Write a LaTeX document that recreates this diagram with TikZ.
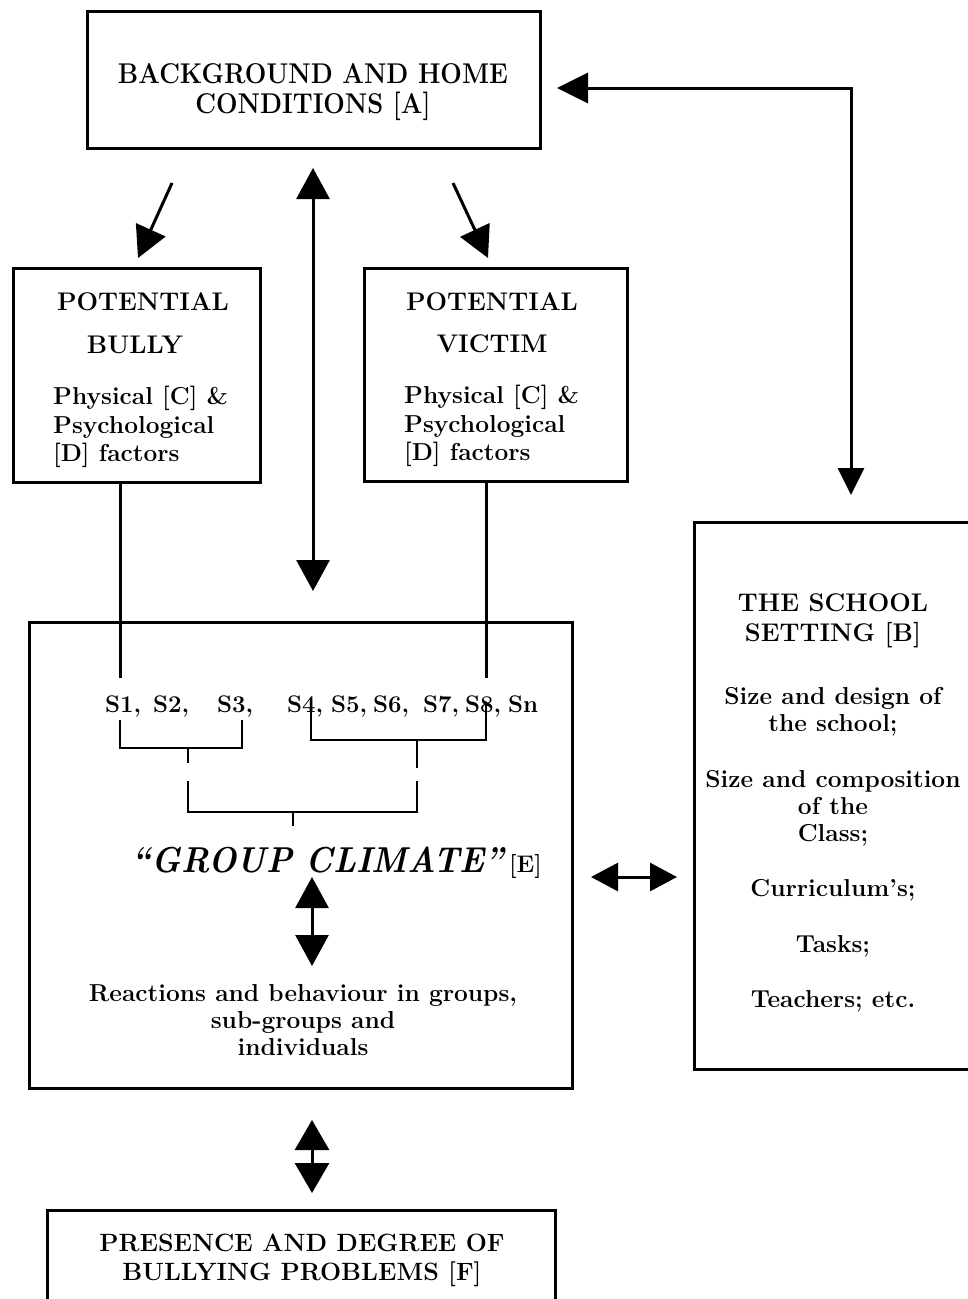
\documentclass[tikz,border=0pt]{standalone}
\usetikzlibrary{arrows.meta}
\begin{document}
\begin{tikzpicture}[x=1pt,y=-1pt,
  box/.style={draw, line width=3pt, rectangle, inner sep=0pt},
  conn/.style={line width=3pt},
  brk/.style={line width=2.8pt},
  lbl/.style={font=\fontsize{24.5}{28.5}\selectfont\bfseries, inner sep=0pt},
  hd/.style={font=\fontsize{25.5}{30}\selectfont\bfseries, inner sep=0pt},
  slbl/.style={font=\fontsize{24}{26}\selectfont\bfseries, inner sep=0pt, anchor=base west},
  bigtip/.style={-{Triangle[length=31pt,width=32pt]}},
  dbltip/.style={{Triangle[length=31pt,width=33pt]}-{Triangle[length=31pt,width=33pt]}},
  smalldbl/.style={{Triangle[length=27pt,width=28pt]}-{Triangle[length=27pt,width=28pt]}}
]
\useasboundingbox (0,0) rectangle (968,1299);
\clip (0,0) rectangle (968,1299);

% boxes
\node[box, minimum width=453pt, minimum height=137pt] (A) at (313.5,79.5) {};
\node[box, minimum width=247pt, minimum height=214pt] (bully) at (136.5,375) {};
\node[box, minimum width=263pt, minimum height=213pt] (victim) at (495.5,374.5) {};
\node[box, minimum width=543pt, minimum height=466pt] (E) at (300.5,855) {};
\node[box, minimum width=278pt, minimum height=547pt] (B) at (833,795.5) {};
\node[box, minimum width=508pt, minimum height=110pt] (F) at (301,1265) {};

% texts
\node[hd, align=center] (Atxt) at (313,92) {\scalebox{1}[1.12]{BACKGROUND AND HOME}\\\scalebox{1}[1.12]{CONDITIONS [A]}};

\node[hd] (bpot) at (143,302) {POTENTIAL};
\node[hd] (bbul) at (135,345) {BULLY};
\node[lbl, align=left, anchor=west] (bfac) at (53,427) {Physical [C] \&\\Psychological\\{[D]} factors};

\node[hd] (vpot) at (492,302) {POTENTIAL};
\node[hd] (vvic) at (492,344) {VICTIM};
\node[lbl, align=left, anchor=west] (vfac) at (404,426) {Physical [C] \&\\Psychological\\{[D]} factors};

\node[hd, align=center] (Btit) at (833,621) {THE SCHOOL\\SETTING [B]};
\node[lbl, align=center, font=\fontsize{24.5}{27}\selectfont\bfseries] (B1) at (833,712) {Size and design of\\the school;};
\node[lbl, align=center, font=\fontsize{24.5}{27}\selectfont\bfseries] (B2) at (833,808) {Size and composition\\of the\\Class;};
\node[lbl] (B3) at (833,890) {Curriculum’s;};
\node[lbl] (B4) at (833,946) {Tasks;};
\node[lbl] (B5) at (833,1001) {Teachers; etc.};

% S labels
\node[slbl] (s1) at (105,712) {S1,};
\node[slbl] (s2) at (153,712) {S2,};
\node[slbl] (s3) at (217,712) {S3,};
\node[slbl] (s4) at (287,712) {S4,};
\node[slbl] (s5) at (331,712) {S5,};
\node[slbl] (s6) at (373,712) {S6,};
\node[slbl] (s7) at (423,712) {S7,};
\node[slbl] (s8) at (465,712) {S8,};
\node[slbl] (sn) at (508,712) {Sn};

\node[inner sep=0pt, anchor=base, font=\fontsize{36}{38}\selectfont\bfseries\itshape] (gc) at (318,872) {\scalebox{0.92}[1]{“GROUP CLIMATE”}};
\node[inner sep=0pt, anchor=base west, font=\fontsize{24}{26}\selectfont\bfseries] (gcE) at (509,872) {[E]};

\node[lbl, align=center, font=\fontsize{24.5}{27}\selectfont\bfseries] (react) at (303,1020) {Reactions and behaviour in groups,\\sub-groups and\\individuals};

\node[hd, align=center, font=\fontsize{25}{29}\selectfont\bfseries] (Ftxt) at (302,1260) {PRESENCE AND DEGREE OF\\BULLYING PROBLEMS [F]};

% coordinates for connector ends
\coordinate (aR) at (557,88);
\coordinate (bT) at (851,495);
\coordinate (d1s) at (172,183);
\coordinate (d1e) at (138,258);
\coordinate (d2s) at (453,183);
\coordinate (d2e) at (488,258);
\coordinate (vT) at (313,168);
\coordinate (vB) at (313,591);
\coordinate (s1top) at (120,678);
\coordinate (s8top) at (486,678);
\coordinate (gcT) at (312,877);
\coordinate (gcB) at (312,966);
\coordinate (efT) at (312,1120);
\coordinate (efB) at (312,1193);
\coordinate (ebL) at (591,877);
\coordinate (ebR) at (677,877);

% connectors
\draw[conn, {Triangle[length=31pt,width=30pt]}-{Triangle[length=27pt,width=26pt]}] (aR) -| (bT);
\draw[conn, bigtip] (d1s) -- (d1e);
\draw[conn, bigtip] (d2s) -- (d2e);
\draw[conn, dbltip] (vT) -- (vB);
\draw[conn] (bully.south -| s1top) -- (s1top);
\draw[conn] (victim.south -| s8top) -- (s8top);

% brackets
\draw[brk] (120,720) -- (120,748) -- (242,748) -- (242,720);
\draw[brk] (188,748) -- (188,763);
\draw[brk] (311,703) -- (311,740) -- (486,740) -- (486,703);
\draw[brk] (417,740) -- (417,768);
\draw[brk] (188,781) -- (188,812) -- (417,812) -- (417,781);
\draw[brk] (293,812) -- (293,826);

\draw[conn, dbltip] (gcT) -- (gcB);
\draw[conn, {Triangle[length=30pt,width=34pt]}-{Triangle[length=30pt,width=34pt]}] (efT) -- (efB);
\draw[conn, smalldbl] (ebL) -- (ebR);
\end{tikzpicture}
\end{document}
